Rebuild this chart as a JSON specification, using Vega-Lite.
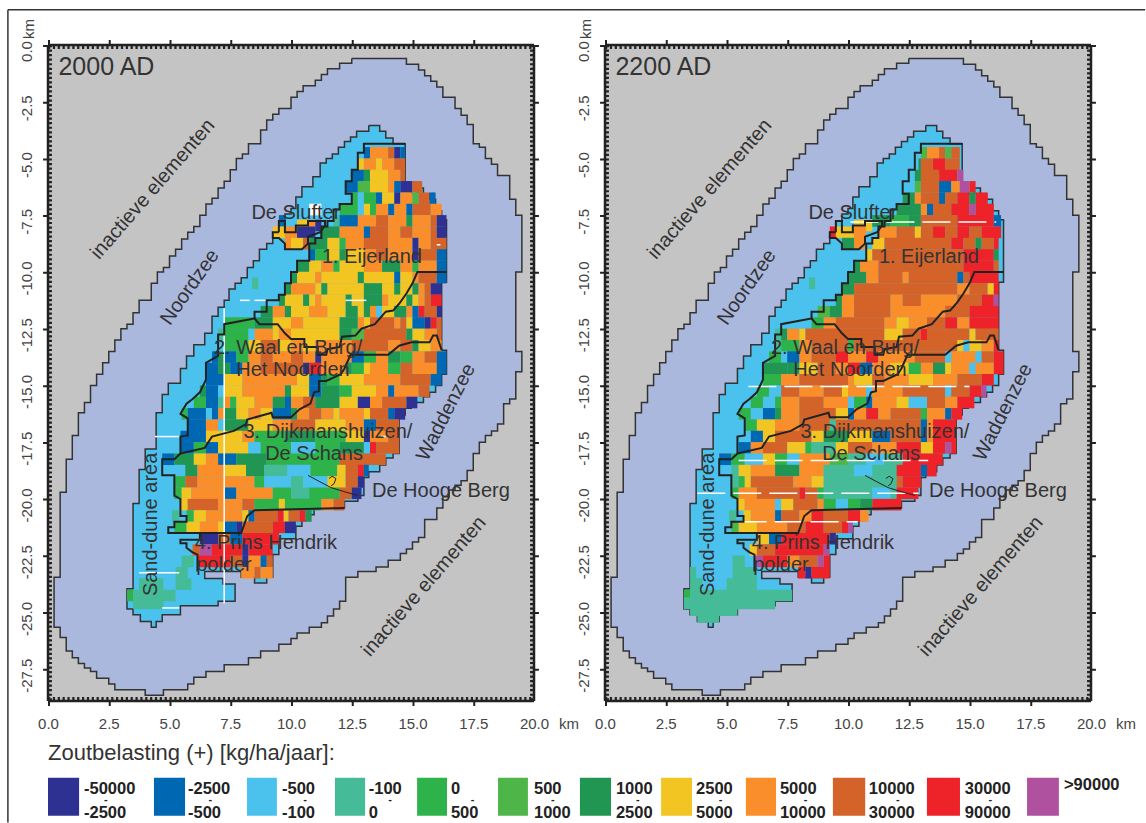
{"$schema":"https://vega.github.io/schema/vega-lite/v6.json","padding":{"left":7,"top":9,"right":0,"bottom":0},"background":"white","config":{"view":{"stroke":null,"fill":"#C4C4C4"},"text":{"font":"Liberation Sans","color":"#333333"},"axis":{"labelFont":"Liberation Sans","grid":false,"title":null}},
"datasets":{
"outer":[{"x":12.5,"y":-0.6},{"x":14.75,"y":-0.6},{"x":14.75,"y":-0.85},{"x":15.25,"y":-0.85},{"x":15.25,"y":-1.1},{"x":15.5,"y":-1.1},{"x":15.5,"y":-1.35},{"x":15.75,"y":-1.35},{"x":15.75,"y":-1.6},{"x":16,"y":-1.6},{"x":16,"y":-1.85},{"x":16.25,"y":-1.85},{"x":16.25,"y":-2.3},{"x":16.75,"y":-2.3},{"x":16.75,"y":-2.8},{"x":17,"y":-2.8},{"x":17,"y":-3.1},{"x":17.25,"y":-3.1},{"x":17.25,"y":-3.5},{"x":17.5,"y":-3.5},{"x":17.5,"y":-4.35},{"x":17.75,"y":-4.35},{"x":17.75,"y":-4.5},{"x":18,"y":-4.5},{"x":18,"y":-5},{"x":18.25,"y":-5},{"x":18.25,"y":-5.25},{"x":18.5,"y":-5.25},{"x":18.5,"y":-5.75},{"x":19,"y":-5.75},{"x":19,"y":-6.8},{"x":19.25,"y":-6.8},{"x":19.25,"y":-7.5},{"x":19.5,"y":-7.5},{"x":19.5,"y":-10},{"x":19.25,"y":-10},{"x":19.25,"y":-13.5},{"x":19.5,"y":-13.5},{"x":19.5,"y":-14.4},{"x":19.25,"y":-14.4},{"x":19.25,"y":-15.6},{"x":19,"y":-15.6},{"x":19,"y":-15.8},{"x":18.75,"y":-15.8},{"x":18.75,"y":-16.7},{"x":18.5,"y":-16.7},{"x":18.5,"y":-17},{"x":18.25,"y":-17},{"x":18.25,"y":-17.2},{"x":18,"y":-17.2},{"x":18,"y":-17.5},{"x":17.75,"y":-17.5},{"x":17.75,"y":-18},{"x":17.5,"y":-18},{"x":17.5,"y":-18.75},{"x":17.25,"y":-18.75},{"x":17.25,"y":-19.2},{"x":17,"y":-19.2},{"x":17,"y":-19.4},{"x":16.75,"y":-19.4},{"x":16.75,"y":-19.6},{"x":16.5,"y":-19.6},{"x":16.5,"y":-19.9},{"x":16.25,"y":-19.9},{"x":16.25,"y":-20.4},{"x":16,"y":-20.4},{"x":16,"y":-20.9},{"x":15.5,"y":-20.9},{"x":15.5,"y":-21.7},{"x":15.25,"y":-21.7},{"x":15.25,"y":-21.9},{"x":15,"y":-21.9},{"x":15,"y":-22.2},{"x":14.75,"y":-22.2},{"x":14.75,"y":-22.4},{"x":14.5,"y":-22.4},{"x":14.5,"y":-22.7},{"x":14,"y":-22.7},{"x":14,"y":-23},{"x":13.5,"y":-23},{"x":13.5,"y":-23.2},{"x":12.75,"y":-23.2},{"x":12.75,"y":-23.45},{"x":12.25,"y":-23.45},{"x":12.25,"y":-24.5},{"x":12,"y":-24.5},{"x":12,"y":-24.85},{"x":11.75,"y":-24.85},{"x":11.75,"y":-25.15},{"x":11.5,"y":-25.15},{"x":11.5,"y":-25.45},{"x":11.25,"y":-25.45},{"x":11.25,"y":-25.65},{"x":10.75,"y":-25.65},{"x":10.75,"y":-25.9},{"x":10.25,"y":-25.9},{"x":10.25,"y":-26.15},{"x":10,"y":-26.15},{"x":10,"y":-26.4},{"x":9.5,"y":-26.4},{"x":9.5,"y":-26.7},{"x":8.75,"y":-26.7},{"x":8.75,"y":-27},{"x":8.25,"y":-27},{"x":8.25,"y":-27.3},{"x":7.25,"y":-27.3},{"x":7.25,"y":-27.6},{"x":6.5,"y":-27.6},{"x":6.5,"y":-27.85},{"x":6,"y":-27.85},{"x":6,"y":-28.15},{"x":5.75,"y":-28.15},{"x":5.75,"y":-28.4},{"x":4.75,"y":-28.4},{"x":4.75,"y":-28.65},{"x":4,"y":-28.65},{"x":4,"y":-28.4},{"x":2.75,"y":-28.4},{"x":2.75,"y":-28.15},{"x":2.5,"y":-28.15},{"x":2.5,"y":-27.9},{"x":2,"y":-27.9},{"x":2,"y":-27.6},{"x":1.75,"y":-27.6},{"x":1.75,"y":-27.45},{"x":1.5,"y":-27.45},{"x":1.5,"y":-27.25},{"x":1.25,"y":-27.25},{"x":1.25,"y":-27},{"x":1,"y":-27},{"x":1,"y":-26.7},{"x":0.75,"y":-26.7},{"x":0.75,"y":-26.1},{"x":0.5,"y":-26.1},{"x":0.5,"y":-25.65},{"x":0.25,"y":-25.65},{"x":0.25,"y":-23.45},{"x":0.5,"y":-23.45},{"x":0.5,"y":-19.7},{"x":0.75,"y":-19.7},{"x":0.75,"y":-18.25},{"x":1,"y":-18.25},{"x":1,"y":-17.2},{"x":1.25,"y":-17.2},{"x":1.25,"y":-16.2},{"x":1.5,"y":-16.2},{"x":1.5,"y":-15.75},{"x":1.75,"y":-15.75},{"x":1.75,"y":-15},{"x":2,"y":-15},{"x":2,"y":-14.5},{"x":2.25,"y":-14.5},{"x":2.25,"y":-14},{"x":2.5,"y":-14},{"x":2.5,"y":-13.5},{"x":2.75,"y":-13.5},{"x":2.75,"y":-13},{"x":3,"y":-13},{"x":3,"y":-12.5},{"x":3.25,"y":-12.5},{"x":3.25,"y":-12.3},{"x":3.5,"y":-12.3},{"x":3.5,"y":-11.8},{"x":3.75,"y":-11.8},{"x":3.75,"y":-11.25},{"x":4.25,"y":-11.25},{"x":4.25,"y":-10.5},{"x":4.5,"y":-10.5},{"x":4.5,"y":-10},{"x":4.75,"y":-10},{"x":4.75,"y":-9.8},{"x":5,"y":-9.8},{"x":5,"y":-9.3},{"x":5.25,"y":-9.3},{"x":5.25,"y":-9},{"x":5.5,"y":-9},{"x":5.5,"y":-8.55},{"x":5.75,"y":-8.55},{"x":5.75,"y":-8.25},{"x":6,"y":-8.25},{"x":6,"y":-8},{"x":6.25,"y":-8},{"x":6.25,"y":-7.5},{"x":6.5,"y":-7.5},{"x":6.5,"y":-7},{"x":6.75,"y":-7},{"x":6.75,"y":-6.75},{"x":7,"y":-6.75},{"x":7,"y":-6.3},{"x":7.25,"y":-6.3},{"x":7.25,"y":-6},{"x":7.5,"y":-6},{"x":7.5,"y":-5.5},{"x":7.75,"y":-5.5},{"x":7.75,"y":-5},{"x":8,"y":-5},{"x":8,"y":-4.8},{"x":8.25,"y":-4.8},{"x":8.25,"y":-4.35},{"x":8.75,"y":-4.35},{"x":8.75,"y":-3.75},{"x":9,"y":-3.75},{"x":9,"y":-3.3},{"x":9.25,"y":-3.3},{"x":9.25,"y":-3.05},{"x":9.5,"y":-3.05},{"x":9.5,"y":-2.8},{"x":10,"y":-2.8},{"x":10,"y":-2.3},{"x":10.25,"y":-2.3},{"x":10.25,"y":-2.05},{"x":10.5,"y":-2.05},{"x":10.5,"y":-1.8},{"x":11,"y":-1.8},{"x":11,"y":-1.55},{"x":11.25,"y":-1.55},{"x":11.25,"y":-1.3},{"x":11.5,"y":-1.3},{"x":11.5,"y":-1.05},{"x":12,"y":-1.05},{"x":12,"y":-0.8},{"x":12.5,"y":-0.8},{"x":12.5,"y":-0.6}],
"isl":[{"x":13.2,"y":-3.55},{"x":13.65,"y":-3.55},{"x":13.65,"y":-3.8},{"x":13.9,"y":-3.8},{"x":13.9,"y":-4.1},{"x":14.2,"y":-4.1},{"x":14.2,"y":-4.35},{"x":14.7,"y":-4.35},{"x":14.7,"y":-6.05},{"x":14.95,"y":-6.05},{"x":14.95,"y":-6.55},{"x":15.2,"y":-6.55},{"x":15.2,"y":-6.3},{"x":15.45,"y":-6.3},{"x":15.45,"y":-6.55},{"x":15.7,"y":-6.55},{"x":15.7,"y":-6.8},{"x":15.95,"y":-6.8},{"x":15.95,"y":-7.3},{"x":16.2,"y":-7.3},{"x":16.2,"y":-7.7},{"x":16.4,"y":-7.7},{"x":16.4,"y":-10.45},{"x":16.2,"y":-10.45},{"x":16.2,"y":-13.45},{"x":16.4,"y":-13.45},{"x":16.4,"y":-14.5},{"x":16.2,"y":-14.5},{"x":16.2,"y":-15},{"x":15.95,"y":-15},{"x":15.95,"y":-15.3},{"x":15.7,"y":-15.3},{"x":15.7,"y":-15.5},{"x":15.45,"y":-15.5},{"x":15.45,"y":-15.75},{"x":14.95,"y":-15.75},{"x":14.95,"y":-16},{"x":14.7,"y":-16},{"x":14.7,"y":-16.3},{"x":14.45,"y":-16.3},{"x":14.45,"y":-18},{"x":14.2,"y":-18},{"x":14.2,"y":-18.2},{"x":13.9,"y":-18.2},{"x":13.9,"y":-18.5},{"x":13.65,"y":-18.5},{"x":13.65,"y":-18.8},{"x":13.2,"y":-18.8},{"x":13.2,"y":-19.05},{"x":13,"y":-19.05},{"x":13,"y":-19.85},{"x":12.75,"y":-19.85},{"x":12.75,"y":-20.1},{"x":12.2,"y":-20.1},{"x":12.2,"y":-20.4},{"x":10.95,"y":-20.4},{"x":10.95,"y":-20.7},{"x":10.7,"y":-20.7},{"x":10.7,"y":-20.95},{"x":10.45,"y":-20.95},{"x":10.45,"y":-21.2},{"x":10.2,"y":-21.2},{"x":10.2,"y":-21.75},{"x":9.5,"y":-21.75},{"x":9.5,"y":-22.45},{"x":9.25,"y":-22.45},{"x":9.25,"y":-23.45},{"x":9,"y":-23.45},{"x":9,"y":-23.7},{"x":8.5,"y":-23.7},{"x":8.5,"y":-23.45},{"x":7.95,"y":-23.45},{"x":7.95,"y":-23.2},{"x":6.45,"y":-23.2},{"x":6.45,"y":-23.5},{"x":7.2,"y":-23.5},{"x":7.2,"y":-23.75},{"x":7.7,"y":-23.75},{"x":7.7,"y":-24.5},{"x":7,"y":-24.5},{"x":7,"y":-24.7},{"x":5.45,"y":-24.7},{"x":5.45,"y":-25.1},{"x":4.7,"y":-25.1},{"x":4.7,"y":-25.4},{"x":4.45,"y":-25.4},{"x":4.45,"y":-25.65},{"x":4.25,"y":-25.65},{"x":4.25,"y":-25.4},{"x":3.8,"y":-25.4},{"x":3.8,"y":-25.1},{"x":3.5,"y":-25.1},{"x":3.5,"y":-24.85},{"x":3.25,"y":-24.85},{"x":3.25,"y":-23.95},{"x":3.5,"y":-23.95},{"x":3.5,"y":-20.2},{"x":3.75,"y":-20.2},{"x":3.75,"y":-18.7},{"x":4,"y":-18.7},{"x":4,"y":-17.8},{"x":4.45,"y":-17.8},{"x":4.45,"y":-16.2},{"x":4.7,"y":-16.2},{"x":4.7,"y":-15.4},{"x":4.95,"y":-15.4},{"x":4.95,"y":-14.9},{"x":5.45,"y":-14.9},{"x":5.45,"y":-14.25},{"x":5.7,"y":-14.25},{"x":5.7,"y":-13.7},{"x":6,"y":-13.7},{"x":6,"y":-13.2},{"x":6.45,"y":-13.2},{"x":6.45,"y":-12.7},{"x":6.75,"y":-12.7},{"x":6.75,"y":-11.95},{"x":7,"y":-11.95},{"x":7,"y":-11.55},{"x":7.25,"y":-11.55},{"x":7.25,"y":-11.25},{"x":7.45,"y":-11.25},{"x":7.45,"y":-10.75},{"x":7.7,"y":-10.75},{"x":7.7,"y":-10.5},{"x":7.95,"y":-10.5},{"x":7.95,"y":-10.25},{"x":8.2,"y":-10.25},{"x":8.2,"y":-9.8},{"x":8.45,"y":-9.8},{"x":8.45,"y":-9.5},{"x":8.7,"y":-9.5},{"x":8.7,"y":-9},{"x":9,"y":-9},{"x":9,"y":-8.75},{"x":9.25,"y":-8.75},{"x":9.25,"y":-8.25},{"x":9.5,"y":-8.25},{"x":9.5,"y":-7.75},{"x":9.75,"y":-7.75},{"x":9.75,"y":-7.45},{"x":10,"y":-7.45},{"x":10,"y":-7.2},{"x":10.2,"y":-7.2},{"x":10.2,"y":-6.7},{"x":10.45,"y":-6.7},{"x":10.45,"y":-6.25},{"x":10.9,"y":-6.25},{"x":10.9,"y":-5.8},{"x":11.2,"y":-5.8},{"x":11.2,"y":-5.2},{"x":11.45,"y":-5.2},{"x":11.45,"y":-5},{"x":11.7,"y":-5},{"x":11.7,"y":-4.8},{"x":11.95,"y":-4.8},{"x":11.95,"y":-4.5},{"x":12.2,"y":-4.5},{"x":12.2,"y":-4.25},{"x":12.45,"y":-4.25},{"x":12.45,"y":-4.05},{"x":12.7,"y":-4.05},{"x":12.7,"y":-3.8},{"x":13.2,"y":-3.8},{"x":13.2,"y":-3.55}],
"lines":[
{"g":"p","x":9.5,"y":-8.25},{"g":"p","x":9.5,"y":-7.75},{"g":"p","x":9.75,"y":-7.75},{"g":"p","x":9.75,"y":-8.25},{"g":"p","x":10.2,"y":-8.25},{"g":"p","x":10.2,"y":-7.95},{"g":"p","x":10.7,"y":-7.95},{"g":"p","x":10.7,"y":-7.75},{"g":"p","x":11.4,"y":-7.75},{"g":"p","x":11.4,"y":-7.95},{"g":"p","x":11.2,"y":-8.25},{"g":"p","x":10.7,"y":-8.45},{"g":"p","x":10.7,"y":-8.75},{"g":"p","x":10.45,"y":-9},{"g":"p","x":9.75,"y":-9},{"g":"p","x":9.75,"y":-8.75},{"g":"p","x":9.5,"y":-8.5},{"g":"p","x":9.25,"y":-8.5},{"g":"p","x":9.25,"y":-8.25},{"g":"p","x":9.5,"y":-8.25},
{"g":"l","x":14.7,"y":-4.35},{"g":"l","x":13,"y":-4.35},{"g":"l","x":13,"y":-4.75},{"g":"l","x":12.75,"y":-4.75},{"g":"l","x":12.75,"y":-5.5},{"g":"l","x":12.5,"y":-5.5},{"g":"l","x":12.5,"y":-6},{"g":"l","x":12.25,"y":-6},{"g":"l","x":12.25,"y":-6.55},{"g":"l","x":12.5,"y":-6.55},{"g":"l","x":12.5,"y":-7},{"g":"l","x":12,"y":-7},{"g":"l","x":12,"y":-7.25},{"g":"l","x":11.75,"y":-7.25},{"g":"l","x":11.75,"y":-7.75},{"g":"l","x":11.5,"y":-7.75},{"g":"l","x":11.5,"y":-8},{"g":"l","x":11.25,"y":-8},{"g":"l","x":11.25,"y":-8.5},{"g":"l","x":11,"y":-8.5},{"g":"l","x":11,"y":-8.75},{"g":"l","x":10.75,"y":-8.75},{"g":"l","x":10.75,"y":-9.5},{"g":"l","x":10.25,"y":-9.5},{"g":"l","x":10.25,"y":-10},{"g":"l","x":10,"y":-10},{"g":"l","x":10,"y":-10.5},{"g":"l","x":9.75,"y":-10.5},{"g":"l","x":9.75,"y":-11},{"g":"l","x":9.5,"y":-11},{"g":"l","x":9.5,"y":-11.25},{"g":"l","x":9,"y":-11.25},{"g":"l","x":9,"y":-11.75},{"g":"l","x":8.5,"y":-11.75},{"g":"l","x":8.5,"y":-12.05},{"g":"l","x":7.25,"y":-12.3},{"g":"l","x":7.25,"y":-12.75},{"g":"l","x":7,"y":-12.75},{"g":"l","x":7,"y":-13.7},{"g":"l","x":6.5,"y":-14},{"g":"l","x":6.5,"y":-14.75},{"g":"l","x":6.25,"y":-15.3},{"g":"l","x":5.95,"y":-15.6},{"g":"l","x":5.7,"y":-15.8},{"g":"l","x":5.45,"y":-16.25},{"g":"l","x":5.75,"y":-16.45},{"g":"l","x":5.75,"y":-17.2},{"g":"l","x":5.45,"y":-17.25},{"g":"l","x":5.45,"y":-18},{"g":"l","x":5.2,"y":-18.25},{"g":"l","x":4.7,"y":-18.25},{"g":"l","x":4.7,"y":-18.95},{"g":"l","x":5.2,"y":-18.95},{"g":"l","x":5.2,"y":-19.85},{"g":"l","x":5.45,"y":-20},{"g":"l","x":5.45,"y":-20.75},{"g":"l","x":5.7,"y":-20.75},{"g":"l","x":5.7,"y":-21},{"g":"l","x":5.2,"y":-21},{"g":"l","x":5.2,"y":-21.25},{"g":"l","x":4.95,"y":-21.25},{"g":"l","x":4.95,"y":-21.5},{"g":"l","x":6.25,"y":-21.5},{"g":"l","x":6.25,"y":-21.8},{"g":"l","x":5.45,"y":-21.8},{"g":"l","x":5.45,"y":-21.95},{"g":"l","x":5.7,"y":-21.95},{"g":"l","x":5.7,"y":-22.15},{"g":"l","x":5.95,"y":-22.35},{"g":"l","x":6.15,"y":-22.45},{"g":"l","x":6.15,"y":-23.2},
{"g":"a","x":8.5,"y":-12.05},{"g":"a","x":8.7,"y":-12.3},{"g":"a","x":9.45,"y":-12.3},{"g":"a","x":9.75,"y":-12.7},{"g":"a","x":10,"y":-12.95},{"g":"a","x":10.55,"y":-12.95},{"g":"a","x":10.55,"y":-13.3},{"g":"a","x":11.1,"y":-13.3},{"g":"a","x":11.1,"y":-13.65},{"g":"a","x":11.45,"y":-13.65},{"g":"a","x":11.5,"y":-13.4},{"g":"a","x":12,"y":-13.3},{"g":"a","x":12.1,"y":-12.85},{"g":"a","x":12.65,"y":-12.8},{"g":"a","x":12.9,"y":-12.5},{"g":"a","x":13.45,"y":-12.3},{"g":"a","x":13.9,"y":-11.75},{"g":"a","x":14.2,"y":-11.7},{"g":"a","x":14.45,"y":-11.4},{"g":"a","x":14.75,"y":-10.95},{"g":"a","x":15,"y":-10.5},{"g":"a","x":15.2,"y":-10},{"g":"a","x":16.4,"y":-10},
{"g":"b","x":5.45,"y":-18},{"g":"b","x":6.45,"y":-17.75},{"g":"b","x":6.75,"y":-17.25},{"g":"b","x":7.65,"y":-17},{"g":"b","x":8.15,"y":-16.7},{"g":"b","x":8.2,"y":-16.5},{"g":"b","x":9.2,"y":-16.2},{"g":"b","x":9.25,"y":-16.4},{"g":"b","x":10,"y":-16.4},{"g":"b","x":10.35,"y":-16.05},{"g":"b","x":10.8,"y":-15.8},{"g":"b","x":10.95,"y":-15.3},{"g":"b","x":11.15,"y":-15.25},{"g":"b","x":11.15,"y":-14.8},{"g":"b","x":11.45,"y":-14.8},{"g":"b","x":12.05,"y":-14.5},{"g":"b","x":12.2,"y":-14.25},{"g":"b","x":12.45,"y":-13.65},{"g":"b","x":14,"y":-13.65},{"g":"b","x":14.45,"y":-13.25},{"g":"b","x":14.95,"y":-13.1},{"g":"b","x":15.7,"y":-13.1},{"g":"b","x":15.85,"y":-12.8},{"g":"b","x":16,"y":-12.8},{"g":"b","x":16.2,"y":-13.45},
{"g":"c","x":6.25,"y":-21.5},{"g":"c","x":7.95,"y":-21.5},{"g":"c","x":8.2,"y":-20.75},{"g":"c","x":8.5,"y":-20.5},{"g":"c","x":12.2,"y":-20.4}],
"hook":[{"g":"h","x":10.7,"y":-18.96},{"g":"h","x":11.15,"y":-19.22},{"g":"h","x":11.65,"y":-19.5},{"g":"h","x":12.26,"y":-19.7},{"g":"h","x":12.76,"y":-19.84},{"g":"o","x":11.56,"y":-19.1},{"g":"o","x":11.69,"y":-19},{"g":"o","x":11.85,"y":-19.1},{"g":"o","x":11.77,"y":-19.33},{"g":"o","x":11.65,"y":-19.42}],
"c1":[
{"y":-4.75,"x":13,"x2":13.25,"c":1},{"y":-4.75,"x":13.25,"x2":14,"c":8},{"y":-4.75,"x":14,"x2":14.25,"c":9},{"y":-4.75,"x":14.25,"x2":14.5,"c":0},{"y":-4.75,"x":14.5,"x2":14.7,"c":1},
{"y":-5.25,"x":12.75,"x2":13,"c":7},{"y":-5.25,"x":13,"x2":13.5,"c":8},{"y":-5.25,"x":13.5,"x2":13.75,"c":7},{"y":-5.25,"x":13.75,"x2":14.25,"c":8},{"y":-5.25,"x":14.25,"x2":14.7,"c":9},
{"y":-5.75,"x":12.5,"x2":13,"c":1},{"y":-5.75,"x":13,"x2":13.25,"c":6},{"y":-5.75,"x":13.25,"x2":14,"c":7},{"y":-5.75,"x":14,"x2":14.5,"c":8},{"y":-5.75,"x":14.5,"x2":14.7,"c":9},
{"y":-6.25,"x":12.25,"x2":12.75,"c":1},{"y":-6.25,"x":12.75,"x2":13.25,"c":5},{"y":-6.25,"x":13.25,"x2":14,"c":7},{"y":-6.25,"x":14,"x2":14.25,"c":8},{"y":-6.25,"x":14.25,"x2":14.5,"c":1},{"y":-6.25,"x":14.5,"x2":15,"c":0},{"y":-6.25,"x":15,"x2":15.4,"c":9},
{"y":-6.75,"x":12.5,"x2":12.75,"c":4},{"y":-6.75,"x":12.75,"x2":13,"c":2},{"y":-6.75,"x":13,"x2":13.5,"c":4},{"y":-6.75,"x":13.5,"x2":13.75,"c":1},{"y":-6.75,"x":13.75,"x2":14.25,"c":7},{"y":-6.75,"x":14.25,"x2":14.5,"c":0},{"y":-6.75,"x":14.5,"x2":15,"c":8},{"y":-6.75,"x":15,"x2":15.25,"c":5},{"y":-6.75,"x":15.25,"x2":15.7,"c":9},{"y":-6.75,"x":15.7,"x2":15.95,"c":1},
{"y":-7.25,"x":10.75,"x2":11.25,"c":12},{"y":-7.25,"x":12,"x2":12.75,"c":4},{"y":-7.25,"x":12.75,"x2":13,"c":2},{"y":-7.25,"x":13,"x2":13.25,"c":7},{"y":-7.25,"x":13.25,"x2":13.5,"c":4},{"y":-7.25,"x":13.5,"x2":14,"c":8},{"y":-7.25,"x":14,"x2":14.25,"c":1},{"y":-7.25,"x":14.25,"x2":14.75,"c":8},{"y":-7.25,"x":14.75,"x2":15,"c":1},{"y":-7.25,"x":15,"x2":15.75,"c":9},{"y":-7.25,"x":15.75,"x2":16.2,"c":8},
{"y":-7.75,"x":9.5,"x2":9.75,"c":1},{"y":-7.95,"x":10.25,"x2":10.7,"c":7},{"y":-7.95,"x":10.7,"x2":11,"c":8},{"y":-7.95,"x":11,"x2":11.25,"c":0},{"y":-7.75,"x":11.75,"x2":12,"c":3},{"y":-7.75,"x":12,"x2":12.75,"c":1},{"y":-7.75,"x":12.75,"x2":13.5,"c":8},{"y":-7.75,"x":13.5,"x2":14,"c":9},{"y":-7.75,"x":14,"x2":14.75,"c":8},{"y":-7.75,"x":14.75,"x2":15,"c":6},{"y":-7.75,"x":15,"x2":15.75,"c":8},{"y":-7.75,"x":15.75,"x2":16,"c":9},{"y":-7.75,"x":16,"x2":16.4,"c":0},
{"y":-8.25,"x":9.25,"x2":9.75,"c":7},{"y":-8.25,"x":9.75,"x2":10.25,"c":8},{"y":-8.25,"x":10.25,"x2":11,"c":0},{"y":-8.25,"x":11.2,"x2":12,"c":6},{"y":-8.25,"x":12,"x2":13,"c":8},{"y":-8.25,"x":13,"x2":13.25,"c":1},{"y":-8.25,"x":13.25,"x2":14,"c":9},{"y":-8.25,"x":14,"x2":14.5,"c":8},{"y":-8.25,"x":14.5,"x2":15,"c":9},{"y":-8.25,"x":15,"x2":15.75,"c":8},{"y":-8.25,"x":15.75,"x2":16,"c":9},{"y":-8.25,"x":16,"x2":16.4,"c":0},
{"y":-8.75,"x":9.75,"x2":10,"c":8},{"y":-8.75,"x":10,"x2":10.5,"c":7},{"y":-8.75,"x":10.5,"x2":10.7,"c":9},{"y":-8.75,"x":10.75,"x2":11.5,"c":6},{"y":-8.75,"x":11.5,"x2":12,"c":7},{"y":-8.75,"x":12,"x2":12.25,"c":4},{"y":-8.75,"x":12.25,"x2":13,"c":8},{"y":-8.75,"x":13,"x2":14,"c":9},{"y":-8.75,"x":14,"x2":15,"c":8},{"y":-8.75,"x":15,"x2":15.25,"c":0},{"y":-8.75,"x":15.25,"x2":15.75,"c":8},{"y":-8.75,"x":15.75,"x2":16.4,"c":9},
{"y":-9.25,"x":10.75,"x2":11,"c":1},{"y":-9.25,"x":11,"x2":11.5,"c":4},{"y":-9.25,"x":11.5,"x2":12,"c":7},{"y":-9.25,"x":12,"x2":12.25,"c":6},{"y":-9.25,"x":12.25,"x2":13,"c":7},{"y":-9.25,"x":13,"x2":13.5,"c":8},{"y":-9.25,"x":13.5,"x2":14,"c":9},{"y":-9.25,"x":14,"x2":15,"c":8},{"y":-9.25,"x":15,"x2":15.25,"c":0},{"y":-9.25,"x":15.25,"x2":16,"c":9},{"y":-9.25,"x":16,"x2":16.4,"c":1},
{"y":-9.75,"x":10.25,"x2":10.75,"c":6},{"y":-9.75,"x":10.75,"x2":11.25,"c":7},{"y":-9.75,"x":11.25,"x2":11.75,"c":8},{"y":-9.75,"x":11.75,"x2":12,"c":4},{"y":-9.75,"x":12,"x2":13,"c":7},{"y":-9.75,"x":13,"x2":13.75,"c":8},{"y":-9.75,"x":13.75,"x2":14.5,"c":6},{"y":-9.75,"x":14.5,"x2":15,"c":8},{"y":-9.75,"x":15,"x2":15.25,"c":4},{"y":-9.75,"x":15.25,"x2":16,"c":8},{"y":-9.75,"x":16,"x2":16.4,"c":1},
{"y":-10.25,"x":10,"x2":10.25,"c":6},{"y":-10.25,"x":10.25,"x2":11,"c":7},{"y":-10.25,"x":11,"x2":11.25,"c":8},{"y":-10.25,"x":11.25,"x2":12.75,"c":7},{"y":-10.25,"x":12.75,"x2":13,"c":6},{"y":-10.25,"x":13,"x2":14.25,"c":7},{"y":-10.25,"x":14.25,"x2":14.5,"c":1},{"y":-10.25,"x":14.5,"x2":15,"c":7},{"y":-10.25,"x":15,"x2":15.25,"c":8},{"y":-10.25,"x":15.25,"x2":16,"c":9},{"y":-10.25,"x":16,"x2":16.4,"c":1},
{"y":-10.5,"x":8.4,"x2":8.65,"c":3},
{"y":-10.75,"x":9.75,"x2":10,"c":6},{"y":-10.75,"x":10,"x2":11,"c":8},{"y":-10.75,"x":11,"x2":11.25,"c":7},{"y":-10.75,"x":11.25,"x2":11.5,"c":6},{"y":-10.75,"x":11.5,"x2":13,"c":7},{"y":-10.75,"x":13,"x2":13.75,"c":6},{"y":-10.75,"x":13.75,"x2":14.25,"c":7},{"y":-10.75,"x":14.25,"x2":14.5,"c":6},{"y":-10.75,"x":14.5,"x2":15,"c":7},{"y":-10.75,"x":15,"x2":15.25,"c":6},{"y":-10.75,"x":15.25,"x2":15.5,"c":8},{"y":-10.75,"x":15.5,"x2":15.75,"c":9},{"y":-10.75,"x":15.75,"x2":16.2,"c":0},
{"y":-11.25,"x":9.5,"x2":9.75,"c":6},{"y":-11.25,"x":9.75,"x2":10.5,"c":7},{"y":-11.25,"x":10.5,"x2":10.75,"c":6},{"y":-11.25,"x":10.75,"x2":11,"c":7},{"y":-11.25,"x":11,"x2":11.25,"c":8},{"y":-11.25,"x":11.25,"x2":12.25,"c":7},{"y":-11.25,"x":12.25,"x2":12.5,"c":6},{"y":-11.25,"x":12.5,"x2":13,"c":7},{"y":-11.25,"x":13,"x2":13.75,"c":6},{"y":-11.25,"x":13.75,"x2":14,"c":8},{"y":-11.25,"x":14,"x2":14.75,"c":7},{"y":-11.25,"x":14.75,"x2":15,"c":6},{"y":-11.25,"x":15,"x2":15.25,"c":7},{"y":-11.25,"x":15.25,"x2":15.5,"c":8},{"y":-11.25,"x":15.5,"x2":15.75,"c":9},{"y":-11.25,"x":15.75,"x2":16.2,"c":10},
{"y":-11.75,"x":8.75,"x2":9.25,"c":6},{"y":-11.75,"x":9.25,"x2":9.75,"c":8},{"y":-11.75,"x":9.75,"x2":10,"c":6},{"y":-11.75,"x":10,"x2":10.75,"c":7},{"y":-11.75,"x":10.75,"x2":11.5,"c":8},{"y":-11.75,"x":11.5,"x2":12.25,"c":7},{"y":-11.75,"x":12.25,"x2":12.75,"c":6},{"y":-11.75,"x":12.75,"x2":13,"c":7},{"y":-11.75,"x":13,"x2":13.25,"c":6},{"y":-11.75,"x":13.25,"x2":13.5,"c":8},{"y":-11.75,"x":13.5,"x2":13.75,"c":2},{"y":-11.75,"x":13.75,"x2":14.25,"c":7},{"y":-11.75,"x":14.25,"x2":14.75,"c":6},{"y":-11.75,"x":14.75,"x2":15,"c":8},{"y":-11.75,"x":15,"x2":15.25,"c":1},{"y":-11.75,"x":15.25,"x2":15.5,"c":10},{"y":-11.75,"x":15.5,"x2":16,"c":9},{"y":-11.75,"x":16,"x2":16.2,"c":0},
{"y":-12.25,"x":7.25,"x2":8.5,"c":4},{"y":-12.25,"x":8.5,"x2":9.25,"c":6},{"y":-12.25,"x":9.25,"x2":10,"c":7},{"y":-12.25,"x":10,"x2":10.5,"c":8},{"y":-12.25,"x":10.5,"x2":12,"c":7},{"y":-12.25,"x":12,"x2":12.75,"c":6},{"y":-12.25,"x":12.75,"x2":13,"c":8},{"y":-12.25,"x":13,"x2":13.25,"c":7},{"y":-12.25,"x":13.25,"x2":14.25,"c":9},{"y":-12.25,"x":14.25,"x2":14.5,"c":8},{"y":-12.25,"x":14.5,"x2":14.75,"c":9},{"y":-12.25,"x":14.75,"x2":15,"c":7},{"y":-12.25,"x":15,"x2":15.5,"c":1},{"y":-12.25,"x":15.5,"x2":15.75,"c":0},{"y":-12.25,"x":15.75,"x2":16,"c":10},{"y":-12.25,"x":16,"x2":16.2,"c":9},
{"y":-12.75,"x":7,"x2":7.25,"c":3},{"y":-12.75,"x":7.25,"x2":8.25,"c":4},{"y":-12.75,"x":8.25,"x2":8.5,"c":2},{"y":-12.75,"x":8.5,"x2":9.25,"c":8},{"y":-12.75,"x":9.25,"x2":9.5,"c":7},{"y":-12.75,"x":9.5,"x2":10,"c":8},{"y":-12.75,"x":10,"x2":12,"c":7},{"y":-12.75,"x":12,"x2":12.5,"c":6},{"y":-12.75,"x":12.5,"x2":13,"c":5},{"y":-12.75,"x":13,"x2":14.75,"c":9},{"y":-12.75,"x":14.75,"x2":15,"c":6},{"y":-12.75,"x":15,"x2":15.5,"c":7},{"y":-12.75,"x":15.5,"x2":16,"c":8},{"y":-12.75,"x":16,"x2":16.2,"c":9},
{"y":-13.25,"x":7,"x2":7.25,"c":2},{"y":-13.25,"x":7.25,"x2":8.25,"c":4},{"y":-13.25,"x":8.25,"x2":8.75,"c":7},{"y":-13.25,"x":8.75,"x2":9.5,"c":9},{"y":-13.25,"x":9.5,"x2":10,"c":7},{"y":-13.25,"x":10,"x2":10.5,"c":8},{"y":-13.25,"x":10.5,"x2":11,"c":7},{"y":-13.25,"x":11,"x2":12.5,"c":8},{"y":-13.25,"x":12.5,"x2":14,"c":9},{"y":-13.25,"x":14,"x2":14.5,"c":8},{"y":-13.25,"x":14.5,"x2":15,"c":9},{"y":-13.25,"x":15,"x2":15.25,"c":6},{"y":-13.25,"x":15.25,"x2":15.75,"c":7},{"y":-13.25,"x":15.75,"x2":16.2,"c":8},
{"y":-13.75,"x":6.75,"x2":7,"c":1},{"y":-13.75,"x":7,"x2":7.25,"c":6},{"y":-13.75,"x":7.25,"x2":7.75,"c":1},{"y":-13.75,"x":7.75,"x2":8.25,"c":4},{"y":-13.75,"x":8.25,"x2":8.75,"c":8},{"y":-13.75,"x":8.75,"x2":9.25,"c":9},{"y":-13.75,"x":9.25,"x2":10,"c":8},{"y":-13.75,"x":10,"x2":10.5,"c":9},{"y":-13.75,"x":10.5,"x2":11,"c":8},{"y":-13.75,"x":11,"x2":11.25,"c":0},{"y":-13.75,"x":11.25,"x2":12.5,"c":8},{"y":-13.75,"x":12.5,"x2":13,"c":1},{"y":-13.75,"x":13,"x2":13.5,"c":4},{"y":-13.75,"x":13.5,"x2":14,"c":8},{"y":-13.75,"x":14,"x2":14.5,"c":6},{"y":-13.75,"x":14.5,"x2":15,"c":4},{"y":-13.75,"x":15,"x2":15.5,"c":8},{"y":-13.75,"x":15.5,"x2":16,"c":9},{"y":-13.75,"x":16,"x2":16.4,"c":1},
{"y":-14.25,"x":6.5,"x2":7,"c":1},{"y":-14.25,"x":7,"x2":7.5,"c":6},{"y":-14.25,"x":7.5,"x2":8,"c":1},{"y":-14.25,"x":8,"x2":8.75,"c":8},{"y":-14.25,"x":8.75,"x2":10.5,"c":9},{"y":-14.25,"x":10.5,"x2":10.75,"c":0},{"y":-14.25,"x":10.75,"x2":11.25,"c":10},{"y":-14.25,"x":11.25,"x2":12.25,"c":8},{"y":-14.25,"x":12.25,"x2":12.5,"c":6},{"y":-14.25,"x":12.5,"x2":13,"c":4},{"y":-14.25,"x":13,"x2":13.25,"c":7},{"y":-14.25,"x":13.25,"x2":14,"c":8},{"y":-14.25,"x":14,"x2":14.5,"c":4},{"y":-14.25,"x":14.5,"x2":15,"c":9},{"y":-14.25,"x":15,"x2":16,"c":8},{"y":-14.25,"x":16,"x2":16.4,"c":1},
{"y":-14.75,"x":6.5,"x2":7.25,"c":1},{"y":-14.75,"x":7.25,"x2":8,"c":7},{"y":-14.75,"x":8,"x2":10.25,"c":8},{"y":-14.75,"x":10.25,"x2":10.75,"c":7},{"y":-14.75,"x":10.75,"x2":11.25,"c":1},{"y":-14.75,"x":11.25,"x2":11.5,"c":6},{"y":-14.75,"x":11.5,"x2":12,"c":4},{"y":-14.75,"x":12,"x2":13,"c":7},{"y":-14.75,"x":13,"x2":14.5,"c":8},{"y":-14.75,"x":14.5,"x2":15.75,"c":9},{"y":-14.75,"x":15.75,"x2":16.2,"c":1},
{"y":-15.25,"x":6.25,"x2":6.5,"c":6},{"y":-15.25,"x":6.5,"x2":7,"c":1},{"y":-15.25,"x":7,"x2":7.25,"c":2},{"y":-15.25,"x":7.25,"x2":8,"c":7},{"y":-15.25,"x":8,"x2":9.75,"c":8},{"y":-15.25,"x":9.75,"x2":10,"c":6},{"y":-15.25,"x":10,"x2":10.75,"c":7},{"y":-15.25,"x":10.75,"x2":11.25,"c":1},{"y":-15.25,"x":11.25,"x2":12,"c":6},{"y":-15.25,"x":12,"x2":12.5,"c":4},{"y":-15.25,"x":12.5,"x2":13.5,"c":7},{"y":-15.25,"x":13.5,"x2":14,"c":8},{"y":-15.25,"x":14,"x2":14.25,"c":1},{"y":-15.25,"x":14.25,"x2":15.25,"c":8},{"y":-15.25,"x":15.25,"x2":15.7,"c":9},
{"y":-15.75,"x":6,"x2":6.5,"c":4},{"y":-15.75,"x":6.5,"x2":7,"c":1},{"y":-15.75,"x":7,"x2":7.25,"c":3},{"y":-15.75,"x":7.25,"x2":7.5,"c":8},{"y":-15.75,"x":7.5,"x2":7.75,"c":4},{"y":-15.75,"x":7.75,"x2":8.5,"c":7},{"y":-15.75,"x":8.5,"x2":9.25,"c":8},{"y":-15.75,"x":9.25,"x2":9.75,"c":6},{"y":-15.75,"x":9.75,"x2":10,"c":1},{"y":-15.75,"x":10,"x2":10.5,"c":8},{"y":-15.75,"x":10.5,"x2":11,"c":9},{"y":-15.75,"x":11,"x2":12,"c":6},{"y":-15.75,"x":12,"x2":12.75,"c":7},{"y":-15.75,"x":12.75,"x2":13.25,"c":0},{"y":-15.75,"x":13.25,"x2":13.75,"c":8},{"y":-15.75,"x":13.75,"x2":14.75,"c":9},{"y":-15.75,"x":14.75,"x2":15.2,"c":0},
{"y":-16.25,"x":5.5,"x2":5.75,"c":4},{"y":-16.25,"x":5.75,"x2":6.5,"c":1},{"y":-16.25,"x":6.5,"x2":6.75,"c":2},{"y":-16.25,"x":6.75,"x2":7,"c":1},{"y":-16.25,"x":7,"x2":7.25,"c":8},{"y":-16.25,"x":7.25,"x2":7.75,"c":6},{"y":-16.25,"x":7.75,"x2":8.25,"c":7},{"y":-16.25,"x":8.25,"x2":8.75,"c":8},{"y":-16.25,"x":8.75,"x2":9.25,"c":7},{"y":-16.25,"x":9.25,"x2":10,"c":1},{"y":-16.25,"x":10,"x2":10.25,"c":6},{"y":-16.25,"x":10.25,"x2":10.75,"c":8},{"y":-16.25,"x":10.75,"x2":11.25,"c":9},{"y":-16.25,"x":11.25,"x2":11.75,"c":8},{"y":-16.25,"x":11.75,"x2":12,"c":7},{"y":-16.25,"x":12,"x2":13,"c":8},{"y":-16.25,"x":13,"x2":13.25,"c":7},{"y":-16.25,"x":13.25,"x2":14,"c":9},{"y":-16.25,"x":14,"x2":14.25,"c":1},{"y":-16.25,"x":14.25,"x2":14.7,"c":0},
{"y":-16.75,"x":5.75,"x2":6.5,"c":1},{"y":-16.75,"x":6.5,"x2":7,"c":8},{"y":-16.75,"x":7,"x2":7.25,"c":2},{"y":-16.75,"x":7.25,"x2":8.25,"c":6},{"y":-16.75,"x":8.25,"x2":9.25,"c":7},{"y":-16.75,"x":9.25,"x2":10,"c":8},{"y":-16.75,"x":10,"x2":11,"c":9},{"y":-16.75,"x":11,"x2":12.25,"c":7},{"y":-16.75,"x":12.25,"x2":13,"c":8},{"y":-16.75,"x":13,"x2":13.5,"c":1},{"y":-16.75,"x":13.5,"x2":14.45,"c":9},
{"y":-17.25,"x":5.45,"x2":6.5,"c":1},{"y":-17.25,"x":6.5,"x2":8,"c":7},{"y":-17.25,"x":8,"x2":8.5,"c":8},{"y":-17.25,"x":8.5,"x2":9.75,"c":4},{"y":-17.25,"x":9.75,"x2":11,"c":6},{"y":-17.25,"x":11,"x2":12.25,"c":4},{"y":-17.25,"x":12.25,"x2":13,"c":7},{"y":-17.25,"x":13,"x2":13.25,"c":0},{"y":-17.25,"x":13.25,"x2":14,"c":8},{"y":-17.25,"x":14,"x2":14.45,"c":9},
{"y":-17.75,"x":5.45,"x2":6,"c":1},{"y":-17.75,"x":6,"x2":6.5,"c":4},{"y":-17.75,"x":6.5,"x2":7,"c":1},{"y":-17.75,"x":7,"x2":8.25,"c":7},{"y":-17.75,"x":8.25,"x2":8.75,"c":2},{"y":-17.75,"x":8.75,"x2":10,"c":4},{"y":-17.75,"x":10,"x2":11,"c":2},{"y":-17.75,"x":11,"x2":12,"c":4},{"y":-17.75,"x":12,"x2":13,"c":6},{"y":-17.75,"x":13,"x2":13.25,"c":2},{"y":-17.75,"x":13.25,"x2":13.5,"c":10},{"y":-17.75,"x":13.5,"x2":14.45,"c":9},
{"y":-18.25,"x":4.7,"x2":5.2,"c":1},{"y":-18.25,"x":5.2,"x2":6,"c":6},{"y":-18.25,"x":6,"x2":6.5,"c":7},{"y":-18.25,"x":6.5,"x2":7,"c":8},{"y":-18.25,"x":7,"x2":7.75,"c":1},{"y":-18.25,"x":7.75,"x2":9,"c":6},{"y":-18.25,"x":9,"x2":12,"c":4},{"y":-18.25,"x":12,"x2":13.9,"c":9},
{"y":-18.75,"x":5.2,"x2":5.65,"c":2},{"y":-18.75,"x":5.65,"x2":6.15,"c":6},{"y":-18.75,"x":6.15,"x2":7.25,"c":8},{"y":-18.75,"x":7.25,"x2":8.15,"c":7},{"y":-18.75,"x":8.15,"x2":8.9,"c":6},{"y":-18.75,"x":8.9,"x2":9.85,"c":3},{"y":-18.75,"x":9.85,"x2":10.8,"c":2},{"y":-18.75,"x":10.8,"x2":11.9,"c":4},{"y":-18.75,"x":11.9,"x2":12.25,"c":7},{"y":-18.75,"x":12.25,"x2":12.75,"c":9},{"y":-18.75,"x":12.75,"x2":13,"c":10},{"y":-18.75,"x":13,"x2":13.2,"c":1},
{"y":-19.25,"x":5.2,"x2":5.65,"c":4},{"y":-19.25,"x":5.65,"x2":6.15,"c":9},{"y":-19.25,"x":6.15,"x2":8.5,"c":8},{"y":-19.25,"x":8.5,"x2":8.9,"c":4},{"y":-19.25,"x":8.9,"x2":10,"c":2},{"y":-19.25,"x":10,"x2":10.5,"c":3},{"y":-19.25,"x":10.5,"x2":11.5,"c":2},{"y":-19.25,"x":11.5,"x2":12.25,"c":7},{"y":-19.25,"x":12.25,"x2":12.75,"c":9},{"y":-19.25,"x":12.75,"x2":13,"c":0},
{"y":-19.75,"x":5.2,"x2":5.5,"c":4},{"y":-19.75,"x":5.5,"x2":5.9,"c":7},{"y":-19.75,"x":5.9,"x2":7.25,"c":8},{"y":-19.75,"x":7.25,"x2":7.75,"c":1},{"y":-19.75,"x":7.75,"x2":9.25,"c":8},{"y":-19.75,"x":9.25,"x2":10,"c":4},{"y":-19.75,"x":10,"x2":10.75,"c":3},{"y":-19.75,"x":10.75,"x2":12,"c":4},{"y":-19.75,"x":12,"x2":12.5,"c":9},{"y":-19.75,"x":12.5,"x2":12.9,"c":0},
{"y":-20.25,"x":5.45,"x2":5.75,"c":7},{"y":-20.25,"x":5.75,"x2":7,"c":9},{"y":-20.25,"x":7,"x2":8,"c":8},{"y":-20.25,"x":8,"x2":8.5,"c":9},{"y":-20.25,"x":8.5,"x2":9.5,"c":4},{"y":-20.25,"x":9.5,"x2":9.75,"c":7},{"y":-20.25,"x":9.75,"x2":11.25,"c":4},{"y":-20.25,"x":11.25,"x2":11.75,"c":8},{"y":-20.25,"x":11.75,"x2":12.2,"c":9},
{"y":-20.75,"x":5.1,"x2":5.4,"c":3},{"y":-20.75,"x":5.7,"x2":6,"c":4},{"y":-20.75,"x":6,"x2":6.5,"c":7},{"y":-20.75,"x":6.5,"x2":8,"c":8},{"y":-20.75,"x":8,"x2":8.25,"c":7},{"y":-20.75,"x":8.25,"x2":8.5,"c":1},{"y":-20.75,"x":8.5,"x2":9.45,"c":9},{"y":-20.75,"x":9.45,"x2":9.7,"c":10},{"y":-20.75,"x":9.7,"x2":9.9,"c":7},{"y":-20.75,"x":9.9,"x2":10.35,"c":9},{"y":-20.75,"x":10.35,"x2":10.6,"c":10},{"y":-20.75,"x":10.6,"x2":10.85,"c":6},
{"y":-21.25,"x":5.2,"x2":5.7,"c":4},{"y":-21.25,"x":5.7,"x2":6.25,"c":7},{"y":-21.25,"x":6.25,"x2":7,"c":8},{"y":-21.25,"x":7,"x2":7.25,"c":7},{"y":-21.25,"x":7.25,"x2":7.75,"c":1},{"y":-21.25,"x":7.75,"x2":8,"c":0},{"y":-21.25,"x":8,"x2":9.25,"c":9},{"y":-21.25,"x":9.25,"x2":9.75,"c":10},{"y":-21.25,"x":9.75,"x2":10.2,"c":0},
{"y":-21.75,"x":6.25,"x2":7,"c":0},{"y":-21.75,"x":7,"x2":7.5,"c":9},{"y":-21.75,"x":7.5,"x2":8,"c":1},{"y":-21.75,"x":8,"x2":9.5,"c":10},
{"y":-22.25,"x":5.95,"x2":6.25,"c":9},{"y":-22.25,"x":6.25,"x2":6.75,"c":11},{"y":-22.25,"x":6.75,"x2":8,"c":10},{"y":-22.25,"x":8,"x2":8.25,"c":0},{"y":-22.25,"x":8.25,"x2":9.25,"c":10},
{"y":-22.75,"x":5.5,"x2":6,"c":3},{"y":-22.75,"x":6.15,"x2":7.5,"c":10},{"y":-22.75,"x":7.5,"x2":8,"c":9},{"y":-22.75,"x":8,"x2":8.25,"c":0},{"y":-22.75,"x":8.25,"x2":8.75,"c":8},{"y":-22.75,"x":8.75,"x2":9,"c":1},{"y":-22.75,"x":9,"x2":9.25,"c":9},
{"y":-23.25,"x":5.25,"x2":5.75,"c":3},{"y":-23.25,"x":7.95,"x2":8.5,"c":8},{"y":-23.25,"x":8.5,"x2":8.75,"c":9},{"y":-23.25,"x":8.75,"x2":9.25,"c":8},
{"y":-23.75,"x":3.75,"x2":4.75,"c":3},{"y":-23.75,"x":5.25,"x2":5.9,"c":3},
{"y":-24.25,"x":3.25,"x2":3.5,"c":4},{"y":-24.25,"x":3.5,"x2":5.25,"c":3},{"y":-24.6,"x":3.5,"x2":4.75,"c":3}],
"c2":[
{"y":-4.75,"x":13,"x2":13.25,"c":5},{"y":-4.75,"x":13.25,"x2":13.75,"c":8},{"y":-4.75,"x":13.75,"x2":14,"c":9},{"y":-4.75,"x":14,"x2":14.25,"c":5},{"y":-4.75,"x":14.25,"x2":14.6,"c":9},
{"y":-5.25,"x":12.9,"x2":13,"c":6},{"y":-5.25,"x":13,"x2":13.5,"c":9},{"y":-5.25,"x":13.5,"x2":14,"c":10},{"y":-5.25,"x":14,"x2":14.6,"c":9},
{"y":-5.75,"x":12.75,"x2":13,"c":6},{"y":-5.75,"x":13,"x2":13.75,"c":9},{"y":-5.75,"x":13.75,"x2":14.5,"c":10},{"y":-5.75,"x":14.5,"x2":14.75,"c":11},
{"y":-6.25,"x":12.75,"x2":13,"c":5},{"y":-6.25,"x":13,"x2":13.75,"c":9},{"y":-6.25,"x":13.75,"x2":14.25,"c":1},{"y":-6.25,"x":14.25,"x2":14.6,"c":8},{"y":-6.25,"x":14.6,"x2":15,"c":11},{"y":-6.25,"x":15,"x2":15.25,"c":10},
{"y":-6.75,"x":12.25,"x2":12.75,"c":6},{"y":-6.75,"x":12.75,"x2":13,"c":8},{"y":-6.75,"x":13,"x2":13.75,"c":9},{"y":-6.75,"x":13.75,"x2":14,"c":1},{"y":-6.75,"x":14,"x2":14.5,"c":9},{"y":-6.75,"x":14.5,"x2":15,"c":10},{"y":-6.75,"x":15,"x2":15.25,"c":6},{"y":-6.75,"x":15.25,"x2":15.75,"c":10},
{"y":-7.25,"x":12,"x2":13,"c":6},{"y":-7.25,"x":13,"x2":13.25,"c":8},{"y":-7.25,"x":13.25,"x2":13.5,"c":1},{"y":-7.25,"x":13.5,"x2":14.25,"c":9},{"y":-7.25,"x":14.25,"x2":15,"c":10},{"y":-7.25,"x":15,"x2":15.25,"c":11},{"y":-7.25,"x":15.25,"x2":16,"c":10},
{"y":-7.95,"x":10.25,"x2":11,"c":7},{"y":-7.75,"x":11,"x2":11.75,"c":6},{"y":-7.75,"x":11.75,"x2":12.5,"c":4},{"y":-7.75,"x":12.5,"x2":13,"c":6},{"y":-7.75,"x":13,"x2":14.5,"c":9},{"y":-7.75,"x":14.5,"x2":16,"c":10},{"y":-7.75,"x":16,"x2":16.3,"c":1},
{"y":-8.25,"x":9.25,"x2":9.5,"c":10},{"y":-8.25,"x":9.5,"x2":10.25,"c":7},{"y":-8.25,"x":10.25,"x2":10.75,"c":8},{"y":-8.25,"x":11.25,"x2":12,"c":8},{"y":-8.25,"x":12,"x2":12.75,"c":9},{"y":-8.25,"x":12.75,"x2":13,"c":7},{"y":-8.25,"x":13,"x2":13.5,"c":9},{"y":-8.25,"x":13.5,"x2":14,"c":10},{"y":-8.25,"x":14,"x2":14.5,"c":9},{"y":-8.25,"x":14.5,"x2":15,"c":10},{"y":-8.25,"x":15,"x2":15.5,"c":9},{"y":-8.25,"x":15.5,"x2":16.3,"c":10},
{"y":-8.75,"x":9.75,"x2":10.25,"c":6},{"y":-8.75,"x":10.25,"x2":10.7,"c":8},{"y":-8.75,"x":11,"x2":11.5,"c":7},{"y":-8.75,"x":11.5,"x2":14.25,"c":9},{"y":-8.75,"x":14.25,"x2":14.75,"c":10},{"y":-8.75,"x":14.75,"x2":15.25,"c":9},{"y":-8.75,"x":15.25,"x2":15.5,"c":6},{"y":-8.75,"x":15.5,"x2":16,"c":9},{"y":-8.75,"x":16,"x2":16.2,"c":10},
{"y":-9.25,"x":10.75,"x2":11,"c":7},{"y":-9.25,"x":11,"x2":14.75,"c":9},{"y":-9.25,"x":14.75,"x2":16,"c":10},{"y":-9.25,"x":16,"x2":16.2,"c":6},
{"y":-9.75,"x":10.25,"x2":10.5,"c":6},{"y":-9.75,"x":10.5,"x2":11.25,"c":8},{"y":-9.75,"x":11.25,"x2":14.75,"c":9},{"y":-9.75,"x":14.75,"x2":16,"c":10},{"y":-9.75,"x":16,"x2":16.2,"c":9},
{"y":-10.25,"x":10,"x2":10.75,"c":6},{"y":-10.25,"x":10.75,"x2":11.25,"c":8},{"y":-10.25,"x":11.25,"x2":12.25,"c":9},{"y":-10.25,"x":12.25,"x2":12.5,"c":8},{"y":-10.25,"x":12.5,"x2":14.5,"c":9},{"y":-10.25,"x":14.5,"x2":14.75,"c":1},{"y":-10.25,"x":14.75,"x2":15,"c":9},{"y":-10.25,"x":15,"x2":16.2,"c":10},{"y":-10.5,"x":8.4,"x2":8.65,"c":3},
{"y":-10.75,"x":9.75,"x2":10.25,"c":6},{"y":-10.75,"x":10.25,"x2":14.5,"c":9},{"y":-10.75,"x":14.5,"x2":15,"c":8},{"y":-10.75,"x":15,"x2":15.75,"c":9},{"y":-10.75,"x":15.75,"x2":16,"c":7},{"y":-10.75,"x":16,"x2":16.2,"c":10},
{"y":-11.25,"x":9.5,"x2":9.75,"c":6},{"y":-11.25,"x":9.75,"x2":10.25,"c":8},{"y":-11.25,"x":10.25,"x2":11.75,"c":9},{"y":-11.25,"x":11.75,"x2":12.25,"c":8},{"y":-11.25,"x":12.25,"x2":13,"c":9},{"y":-11.25,"x":13,"x2":14.5,"c":8},{"y":-11.25,"x":14.5,"x2":15.5,"c":9},{"y":-11.25,"x":15.5,"x2":16,"c":10},{"y":-11.25,"x":16,"x2":16.2,"c":11},
{"y":-11.75,"x":8.75,"x2":9.25,"c":5},{"y":-11.75,"x":9.25,"x2":9.75,"c":6},{"y":-11.75,"x":9.75,"x2":10.25,"c":8},{"y":-11.75,"x":10.25,"x2":11.75,"c":9},{"y":-11.75,"x":11.75,"x2":14,"c":8},{"y":-11.75,"x":14,"x2":15,"c":9},{"y":-11.75,"x":15,"x2":16.2,"c":10},
{"y":-12.25,"x":8.5,"x2":9,"c":4},{"y":-12.25,"x":9,"x2":9.5,"c":8},{"y":-12.25,"x":9.5,"x2":11.5,"c":9},{"y":-12.25,"x":11.5,"x2":12,"c":8},{"y":-12.25,"x":12,"x2":12.5,"c":7},{"y":-12.25,"x":12.5,"x2":13.25,"c":8},{"y":-12.25,"x":13.25,"x2":14,"c":9},{"y":-12.25,"x":14,"x2":14.5,"c":10},{"y":-12.25,"x":14.5,"x2":15,"c":8},{"y":-12.25,"x":15,"x2":16.2,"c":10},
{"y":-12.75,"x":7,"x2":7.25,"c":3},{"y":-12.75,"x":7.25,"x2":7.5,"c":6},{"y":-12.75,"x":7.5,"x2":8,"c":8},{"y":-12.75,"x":8,"x2":8.25,"c":7},{"y":-12.75,"x":8.25,"x2":11.5,"c":9},{"y":-12.75,"x":11.5,"x2":12.25,"c":7},{"y":-12.75,"x":12.25,"x2":13,"c":9},{"y":-12.75,"x":13,"x2":13.25,"c":10},{"y":-12.75,"x":13.25,"x2":15,"c":9},{"y":-12.75,"x":15,"x2":15.25,"c":7},{"y":-12.75,"x":15.25,"x2":16.2,"c":9},
{"y":-13.25,"x":7,"x2":7.25,"c":3},{"y":-13.25,"x":7.25,"x2":8,"c":4},{"y":-13.25,"x":8,"x2":8.5,"c":8},{"y":-13.25,"x":8.5,"x2":10,"c":9},{"y":-13.25,"x":10,"x2":10.25,"c":4},{"y":-13.25,"x":10.25,"x2":14.5,"c":9},{"y":-13.25,"x":14.5,"x2":14.75,"c":7},{"y":-13.25,"x":14.75,"x2":15,"c":2},{"y":-13.25,"x":15,"x2":15.5,"c":7},{"y":-13.25,"x":15.5,"x2":16,"c":8},{"y":-13.25,"x":16,"x2":16.2,"c":10},
{"y":-13.75,"x":6.75,"x2":7.25,"c":4},{"y":-13.75,"x":7.25,"x2":7.5,"c":2},{"y":-13.75,"x":7.5,"x2":8,"c":1},{"y":-13.75,"x":8,"x2":8.5,"c":8},{"y":-13.75,"x":8.5,"x2":9.5,"c":9},{"y":-13.75,"x":9.5,"x2":10,"c":10},{"y":-13.75,"x":10,"x2":10.75,"c":8},{"y":-13.75,"x":10.75,"x2":11.25,"c":10},{"y":-13.75,"x":11.25,"x2":12.75,"c":8},{"y":-13.75,"x":12.75,"x2":14,"c":9},{"y":-13.75,"x":14,"x2":14.25,"c":2},{"y":-13.75,"x":14.25,"x2":15.25,"c":8},{"y":-13.75,"x":15.25,"x2":15.5,"c":2},{"y":-13.75,"x":15.5,"x2":16,"c":9},{"y":-13.75,"x":16,"x2":16.4,"c":10},
{"y":-14.25,"x":6.5,"x2":7.5,"c":6},{"y":-14.25,"x":7.5,"x2":8,"c":6},{"y":-14.25,"x":8,"x2":8.75,"c":7},{"y":-14.25,"x":8.75,"x2":9.5,"c":9},{"y":-14.25,"x":9.5,"x2":10,"c":8},{"y":-14.25,"x":10,"x2":10.5,"c":10},{"y":-14.25,"x":10.5,"x2":11,"c":1},{"y":-14.25,"x":11,"x2":11.75,"c":8},{"y":-14.25,"x":11.75,"x2":12.5,"c":7},{"y":-14.25,"x":12.5,"x2":13,"c":4},{"y":-14.25,"x":13,"x2":13.5,"c":8},{"y":-14.25,"x":13.5,"x2":14,"c":6},{"y":-14.25,"x":14,"x2":14.25,"c":7},{"y":-14.25,"x":14.25,"x2":15,"c":8},{"y":-14.25,"x":15,"x2":15.25,"c":2},{"y":-14.25,"x":15.25,"x2":16,"c":8},{"y":-14.25,"x":16,"x2":16.4,"c":10},
{"y":-14.75,"x":6.5,"x2":7.25,"c":4},{"y":-14.75,"x":7.25,"x2":8,"c":8},{"y":-14.75,"x":8,"x2":10,"c":9},{"y":-14.75,"x":10,"x2":10.25,"c":8},{"y":-14.75,"x":10.25,"x2":11,"c":7},{"y":-14.75,"x":11,"x2":11.5,"c":9},{"y":-14.75,"x":11.5,"x2":12.5,"c":8},{"y":-14.75,"x":12.5,"x2":13.5,"c":7},{"y":-14.75,"x":13.5,"x2":14.5,"c":8},{"y":-14.75,"x":14.5,"x2":15.5,"c":9},{"y":-14.75,"x":15.5,"x2":16,"c":10},
{"y":-15.25,"x":6.25,"x2":6.75,"c":4},{"y":-15.25,"x":6.75,"x2":7.25,"c":2},{"y":-15.25,"x":7.25,"x2":8,"c":9},{"y":-15.25,"x":8,"x2":9,"c":8},{"y":-15.25,"x":9,"x2":9.75,"c":9},{"y":-15.25,"x":9.75,"x2":10,"c":7},{"y":-15.25,"x":10,"x2":10.75,"c":8},{"y":-15.25,"x":10.75,"x2":11,"c":2},{"y":-15.25,"x":11,"x2":12.25,"c":8},{"y":-15.25,"x":12.25,"x2":14,"c":9},{"y":-15.25,"x":14,"x2":14.25,"c":2},{"y":-15.25,"x":14.25,"x2":15,"c":9},{"y":-15.25,"x":15,"x2":15.5,"c":10},{"y":-15.25,"x":15.5,"x2":15.7,"c":11},
{"y":-15.75,"x":6,"x2":6.5,"c":4},{"y":-15.75,"x":6.5,"x2":7,"c":2},{"y":-15.75,"x":7,"x2":7.25,"c":4},{"y":-15.75,"x":7.25,"x2":8,"c":8},{"y":-15.75,"x":8,"x2":9,"c":9},{"y":-15.75,"x":9,"x2":10,"c":8},{"y":-15.75,"x":10,"x2":10.25,"c":2},{"y":-15.75,"x":10.25,"x2":10.75,"c":4},{"y":-15.75,"x":10.75,"x2":11,"c":1},{"y":-15.75,"x":11,"x2":12,"c":8},{"y":-15.75,"x":12,"x2":12.5,"c":7},{"y":-15.75,"x":12.5,"x2":13.25,"c":2},{"y":-15.75,"x":13.25,"x2":14,"c":9},{"y":-15.75,"x":14,"x2":14.5,"c":8},{"y":-15.75,"x":14.5,"x2":15.2,"c":10},
{"y":-16.25,"x":5.5,"x2":6,"c":4},{"y":-16.25,"x":6,"x2":6.5,"c":2},{"y":-16.25,"x":6.5,"x2":7,"c":1},{"y":-16.25,"x":7,"x2":7.25,"c":6},{"y":-16.25,"x":7.25,"x2":8,"c":8},{"y":-16.25,"x":8,"x2":9.5,"c":9},{"y":-16.25,"x":9.5,"x2":10,"c":7},{"y":-16.25,"x":10,"x2":10.25,"c":1},{"y":-16.25,"x":10.25,"x2":10.75,"c":8},{"y":-16.25,"x":10.75,"x2":11.25,"c":10},{"y":-16.25,"x":11.25,"x2":11.75,"c":8},{"y":-16.25,"x":11.75,"x2":13,"c":9},{"y":-16.25,"x":13,"x2":13.25,"c":4},{"y":-16.25,"x":13.25,"x2":14,"c":8},{"y":-16.25,"x":14,"x2":14.25,"c":1},{"y":-16.25,"x":14.25,"x2":14.7,"c":10},
{"y":-16.75,"x":5.75,"x2":6.25,"c":4},{"y":-16.75,"x":6.25,"x2":7,"c":7},{"y":-16.75,"x":7,"x2":8,"c":8},{"y":-16.75,"x":8,"x2":9.25,"c":9},{"y":-16.75,"x":9.25,"x2":9.5,"c":3},{"y":-16.75,"x":9.5,"x2":13,"c":9},{"y":-16.75,"x":13,"x2":13.25,"c":1},{"y":-16.75,"x":13.25,"x2":13.5,"c":8},{"y":-16.75,"x":13.5,"x2":14.45,"c":10},
{"y":-17.25,"x":5.75,"x2":6,"c":2},{"y":-17.25,"x":6,"x2":6.5,"c":1},{"y":-17.25,"x":6.5,"x2":7,"c":7},{"y":-17.25,"x":7,"x2":8.5,"c":9},{"y":-17.25,"x":8.5,"x2":9,"c":7},{"y":-17.25,"x":9,"x2":10,"c":6},{"y":-17.25,"x":10,"x2":11,"c":7},{"y":-17.25,"x":11,"x2":11.75,"c":1},{"y":-17.25,"x":11.75,"x2":13,"c":9},{"y":-17.25,"x":13,"x2":13.25,"c":1},{"y":-17.25,"x":13.25,"x2":13.5,"c":8},{"y":-17.25,"x":13.5,"x2":14.45,"c":10},
{"y":-17.75,"x":5.5,"x2":6,"c":1},{"y":-17.75,"x":6,"x2":6.5,"c":8},{"y":-17.75,"x":6.5,"x2":7.5,"c":9},{"y":-17.75,"x":7.5,"x2":8.25,"c":7},{"y":-17.75,"x":8.25,"x2":8.5,"c":4},{"y":-17.75,"x":8.5,"x2":9.5,"c":3},{"y":-17.75,"x":9.5,"x2":10,"c":7},{"y":-17.75,"x":10,"x2":11,"c":9},{"y":-17.75,"x":11,"x2":12,"c":8},{"y":-17.75,"x":12,"x2":13,"c":10},{"y":-17.75,"x":13,"x2":13.5,"c":7},{"y":-17.75,"x":13.5,"x2":14,"c":10},{"y":-17.75,"x":14,"x2":14.25,"c":11},{"y":-17.75,"x":14.25,"x2":14.45,"c":10},
{"y":-18.25,"x":4.7,"x2":5.2,"c":1},{"y":-18.25,"x":5.2,"x2":5.75,"c":4},{"y":-18.25,"x":5.75,"x2":6.5,"c":2},{"y":-18.25,"x":6.5,"x2":7,"c":7},{"y":-18.25,"x":7,"x2":7.5,"c":4},{"y":-18.25,"x":7.5,"x2":8,"c":2},{"y":-18.25,"x":8,"x2":9.25,"c":8},{"y":-18.25,"x":9.25,"x2":10,"c":5},{"y":-18.25,"x":10,"x2":10.75,"c":3},{"y":-18.25,"x":10.75,"x2":11.5,"c":2},{"y":-18.25,"x":11.5,"x2":12.25,"c":3},{"y":-18.25,"x":12.25,"x2":13.9,"c":10},
{"y":-18.75,"x":5.2,"x2":5.5,"c":3},{"y":-18.75,"x":5.5,"x2":6,"c":7},{"y":-18.75,"x":6,"x2":7,"c":8},{"y":-18.75,"x":7,"x2":8,"c":6},{"y":-18.75,"x":8,"x2":9,"c":8},{"y":-18.75,"x":9,"x2":10.25,"c":3},{"y":-18.75,"x":10.25,"x2":11,"c":2},{"y":-18.75,"x":11,"x2":12,"c":3},{"y":-18.75,"x":12,"x2":13,"c":10},{"y":-18.75,"x":13,"x2":13.25,"c":1},{"y":-18.75,"x":13.25,"x2":13.65,"c":10},
{"y":-19.25,"x":5.2,"x2":5.5,"c":3},{"y":-19.25,"x":5.5,"x2":5.75,"c":4},{"y":-19.25,"x":5.75,"x2":6,"c":7},{"y":-19.25,"x":6,"x2":7.75,"c":9},{"y":-19.25,"x":7.75,"x2":8.5,"c":8},{"y":-19.25,"x":8.5,"x2":9,"c":7},{"y":-19.25,"x":9,"x2":12,"c":3},{"y":-19.25,"x":12,"x2":12.25,"c":9},{"y":-19.25,"x":12.25,"x2":13,"c":10},
{"y":-19.75,"x":5.2,"x2":5.5,"c":4},{"y":-19.75,"x":5.5,"x2":6.25,"c":8},{"y":-19.75,"x":6.25,"x2":8,"c":9},{"y":-19.75,"x":8,"x2":8.25,"c":10},{"y":-19.75,"x":8.25,"x2":8.75,"c":9},{"y":-19.75,"x":8.75,"x2":9,"c":4},{"y":-19.75,"x":9,"x2":11,"c":3},{"y":-19.75,"x":11,"x2":11.75,"c":2},{"y":-19.75,"x":11.75,"x2":12,"c":3},{"y":-19.75,"x":12,"x2":12.9,"c":10},
{"y":-20.25,"x":5.45,"x2":5.75,"c":7},{"y":-20.25,"x":5.75,"x2":7,"c":8},{"y":-20.25,"x":7,"x2":7.25,"c":2},{"y":-20.25,"x":7.25,"x2":7.75,"c":7},{"y":-20.25,"x":7.75,"x2":8.75,"c":9},{"y":-20.25,"x":8.75,"x2":9,"c":8},{"y":-20.25,"x":9,"x2":9.5,"c":4},{"y":-20.25,"x":9.5,"x2":10,"c":2},{"y":-20.25,"x":10,"x2":10.5,"c":4},{"y":-20.25,"x":10.5,"x2":11,"c":6},{"y":-20.25,"x":11,"x2":12.2,"c":10},
{"y":-20.75,"x":5.1,"x2":5.4,"c":3},{"y":-20.75,"x":5.7,"x2":6,"c":7},{"y":-20.75,"x":6,"x2":7,"c":8},{"y":-20.75,"x":7,"x2":7.25,"c":1},{"y":-20.75,"x":7.25,"x2":8,"c":9},{"y":-20.75,"x":8,"x2":8.5,"c":8},{"y":-20.75,"x":8.5,"x2":9,"c":10},{"y":-20.75,"x":9,"x2":10,"c":9},{"y":-20.75,"x":10,"x2":10.5,"c":10},{"y":-20.75,"x":10.5,"x2":10.85,"c":8},
{"y":-21.25,"x":5.2,"x2":5.5,"c":5},{"y":-21.25,"x":5.5,"x2":6.25,"c":7},{"y":-21.25,"x":6.25,"x2":7.5,"c":8},{"y":-21.25,"x":7.5,"x2":8.25,"c":9},{"y":-21.25,"x":8.25,"x2":9,"c":10},{"y":-21.25,"x":9,"x2":9.75,"c":9},{"y":-21.25,"x":9.75,"x2":10,"c":10},{"y":-21.25,"x":10,"x2":10.2,"c":11},
{"y":-21.75,"x":6.25,"x2":6.75,"c":7},{"y":-21.75,"x":6.75,"x2":7.25,"c":1},{"y":-21.75,"x":7.25,"x2":9.25,"c":10},{"y":-21.75,"x":9.25,"x2":9.5,"c":0},
{"y":-22.25,"x":5.95,"x2":6.25,"c":7},{"y":-22.25,"x":6.25,"x2":7,"c":9},{"y":-22.25,"x":7,"x2":9,"c":10},{"y":-22.25,"x":9,"x2":9.25,"c":11},
{"y":-22.75,"x":5.25,"x2":5.75,"c":3},{"y":-22.75,"x":6.15,"x2":6.5,"c":11},{"y":-22.75,"x":6.5,"x2":7.5,"c":10},{"y":-22.75,"x":7.5,"x2":8,"c":8},{"y":-22.75,"x":8,"x2":8.75,"c":9},{"y":-22.75,"x":8.75,"x2":9,"c":11},{"y":-22.75,"x":9,"x2":9.25,"c":10},
{"y":-23.25,"x":3.5,"x2":3.75,"c":3},{"y":-23.25,"x":5.25,"x2":6.25,"c":3},{"y":-23.25,"x":7.95,"x2":8.25,"c":10},{"y":-23.25,"x":8.25,"x2":8.5,"c":0},{"y":-23.25,"x":8.5,"x2":9.25,"c":10},
{"y":-23.75,"x":3.5,"x2":4,"c":3},{"y":-23.75,"x":5,"x2":6.25,"c":3},
{"y":-24.25,"x":3.25,"x2":3.5,"c":4},{"y":-24.25,"x":3.5,"x2":7.7,"c":3},
{"y":-24.6,"x":3.25,"x2":7,"c":3},{"y":-24.9,"x":3.5,"x2":5.45,"c":3},{"y":-25.2,"x":3.8,"x2":4.7,"c":3}],
"w1":[{"x":7.25,"x2":7.25,"y":-11.6,"y2":-24.6},{"x":4.4,"x2":5.4,"y":-17.25,"y2":-17.25},{"x":3.75,"x2":5.4,"y":-23.25,"y2":-23.25},{"x":4.7,"x2":5.4,"y":-24.8,"y2":-24.8},{"x":7.9,"x2":8.3,"y":-11.25,"y2":-11.25},{"x":8.5,"x2":9.2,"y":-11.25,"y2":-11.25},{"x":12.25,"x2":13.1,"y":-11.25,"y2":-11.25},{"x":16,"x2":16.15,"y":-8.8,"y2":-8.8},{"x":13.7,"x2":13.9,"y":-17.25,"y2":-17.25}],
"w2":[{"x":5.9,"x2":15,"y":-15.05,"y2":-15.05},{"x":5.5,"x2":13.3,"y":-18.3,"y2":-18.3},{"x":3.8,"x2":12.9,"y":-19.75,"y2":-19.75},{"x":5.5,"x2":10.4,"y":-21,"y2":-21},{"x":10.1,"x2":16.1,"y":-7.8,"y2":-7.8}],
"fr":[{"x":-1.65,"x2":45.15,"y":1.55,"y2":1.55},{"x":-1.65,"x2":-1.65,"y":1.55,"y2":-34.25}],
"box":[{"x":0,"x2":20,"y":0,"y2":0},{"x":20,"x2":20,"y":0,"y2":-28.9},{"x":20,"x2":0,"y":-28.9,"y2":-28.9},{"x":0,"x2":0,"y":-28.9,"y2":0}],
"mh":[{"x":0,"x2":20,"y":-0.09,"y2":-0.09},{"x":0,"x2":20,"y":-28.81,"y2":-28.81}],
"mv":[{"x":0.08,"x2":0.08,"y":0,"y2":-28.9},{"x":19.92,"x2":19.92,"y":0,"y2":-28.9}],
"Mh":[{"x":0,"x2":20,"y":0.11,"y2":0.11},{"x":0,"x2":20,"y":-29.01,"y2":-29.01}],
"Mv":[{"x":-0.1,"x2":-0.1,"y":0,"y2":-28.9},{"x":20.1,"x2":20.1,"y":0,"y2":-28.9}],
"ann":[{"x":10.2,"y":-7.4,"t":"De Slufter"},{"x":13.33,"y":-9.35,"t":"1. Eijerland"},{"x":9.88,"y":-13.36,"t":"2. Waal en Burg/"},{"x":10.08,"y":-14.33,"t":"Het Noorden"},{"x":11.52,"y":-17.06,"t":"3. Dijkmanshuizen/"},{"x":10.95,"y":-18.03,"t":"De Schans"},{"x":16.17,"y":-19.67,"t":"De Hooge Berg"},{"x":8.97,"y":-21.96,"t":"4. Prins Hendrik"},{"x":7.24,"y":-22.93,"t":"polder"}],
"sw":[{"x":0,"x2":1.28,"y":-32.28,"y2":-33.95,"c":0},{"x":4.36,"x2":5.64,"y":-32.28,"y2":-33.95,"c":1},{"x":8.19,"x2":9.42,"y":-32.28,"y2":-33.95,"c":2},{"x":11.81,"x2":13.05,"y":-32.28,"y2":-33.95,"c":3},{"x":15.19,"x2":16.42,"y":-32.28,"y2":-33.95,"c":4},{"x":18.52,"x2":19.75,"y":-32.28,"y2":-33.95,"c":5},{"x":21.89,"x2":23.17,"y":-32.28,"y2":-33.95,"c":6},{"x":25.23,"x2":26.5,"y":-32.28,"y2":-33.95,"c":7},{"x":28.72,"x2":29.96,"y":-32.28,"y2":-33.95,"c":8},{"x":32.3,"x2":33.63,"y":-32.28,"y2":-33.95,"c":9},{"x":36.17,"x2":37.53,"y":-32.28,"y2":-33.95,"c":10},{"x":40.29,"x2":41.6,"y":-32.28,"y2":-33.95,"c":11}],
"lt":[{"x":1.48,"y":-32.76,"t":"-50000"},{"x":1.48,"y":-33.82,"t":"-2500"},{"x":5.76,"y":-32.76,"t":"-2500"},{"x":5.76,"y":-33.82,"t":"-500"},{"x":9.63,"y":-32.76,"t":"-500"},{"x":9.63,"y":-33.82,"t":"-100"},{"x":13.2,"y":-32.76,"t":"-100"},{"x":13.2,"y":-33.82,"t":"0"},{"x":16.58,"y":-32.76,"t":"0"},{"x":16.58,"y":-33.82,"t":"500"},{"x":20,"y":-32.76,"t":"500"},{"x":20,"y":-33.82,"t":"1000"},{"x":23.37,"y":-32.76,"t":"1000"},{"x":23.37,"y":-33.82,"t":"2500"},{"x":26.67,"y":-32.76,"t":"2500"},{"x":26.67,"y":-33.82,"t":"5000"},{"x":30.12,"y":-32.76,"t":"5000"},{"x":30.12,"y":-33.82,"t":"10000"},{"x":33.78,"y":-32.76,"t":"10000"},{"x":33.78,"y":-33.82,"t":"30000"},{"x":37.73,"y":-32.76,"t":"30000"},{"x":37.73,"y":-33.82,"t":"90000"},{"x":41.81,"y":-32.6,"t":">90000"}],
"ld":[{"x":2.3,"y":-33.25,"t":"-"},{"x":6.6,"y":-33.25,"t":"-"},{"x":10.5,"y":-33.25,"t":"-"},{"x":14,"y":-33.25,"t":"-"},{"x":17.4,"y":-33.25,"t":"-"},{"x":20.7,"y":-33.25,"t":"-"},{"x":24.2,"y":-33.25,"t":"-"},{"x":27.6,"y":-33.25,"t":"-"},{"x":31.1,"y":-33.25,"t":"-"},{"x":34.9,"y":-33.25,"t":"-"},{"x":38.7,"y":-33.25,"t":"-"}]
},
"spacing":71,"bounds":"flush",
"hconcat":[
{"width":486,"height":656,"encoding":{"x":{"field":"x","type":"quantitative","scale":{"domain":[0,20],"nice":false,"zero":false},"axis":null},"y":{"field":"y","type":"quantitative","scale":{"domain":[-28.9,0],"nice":false,"zero":false},"axis":null}},
"resolve":{"axis":{"x":"independent","y":"independent"}},
"layer":[
{"data":{"name":"outer"},"mark":{"type":"line","order":null,"fill":"#ABB8DE","stroke":"#333333","strokeWidth":1.5},"encoding":{"x":{"field":"x","type":"quantitative","axis":{"orient":"bottom","values":[0,2.5,5,7.5,10,12.5,15,17.5,20],"format":".1f","labelFlush":false,"ticks":false,"domain":false,"labelFontSize":15,"labelColor":"#444444","labelPadding":15}},"y":{"field":"y","type":"quantitative","axis":{"orient":"left","values":[0,-2.5,-5,-7.5,-10,-12.5,-15,-17.5,-20,-22.5,-25,-27.5],"labelExpr":"replace(format(datum.value,'.1f'),'−','-')","ticks":false,"domain":false,"labelFontSize":15,"labelColor":"#444444","labelAngle":-90,"labelAlign":"center","labelBaseline":"middle","labelPadding":22,"labelOffset":6}}}},
{"data":{"name":"isl"},"mark":{"type":"line","order":null,"fill":"#4BC2EE","stroke":"#333333","strokeWidth":1.5}},
{"data":{"name":"c1"},"mark":{"type":"rect","height":11.6},"encoding":{"x2":{"field":"x2"},"color":{"field":"c","type":"ordinal","legend":null,"scale":{"domain":[0,1,2,3,4,5,6,7,8,9,10,11,12],"range":["#2E3192","#0067B3","#4BC2EE","#45BB97","#2DB34A","#4EB648","#219653","#F2C522","#F98E2A","#D4632A","#EE2329","#AF519F","#FFFFFF"]}}}},
{"data":{"name":"w1"},"mark":{"type":"rule","color":"white","strokeWidth":1.5},"encoding":{"x2":{"field":"x2"},"y2":{"field":"y2"}}},
{"data":{"name":"lines"},"mark":{"type":"line","order":null,"stroke":"#222222","strokeWidth":2},"encoding":{"detail":{"field":"g"}}},
{"data":{"name":"hook"},"mark":{"type":"line","order":null,"stroke":"#222222","strokeWidth":1},"encoding":{"detail":{"field":"g"}}},
{"data":{"name":"box"},"mark":{"type":"rule","color":"#222222","strokeWidth":2.5},"encoding":{"x2":{"field":"x2"},"y2":{"field":"y2"}}},
{"data":{"name":"mh"},"mark":{"type":"rule","color":"#222222","strokeWidth":4,"strokeDash":[2.2,2.66]},"encoding":{"x2":{"field":"x2"},"y2":{"field":"y2"}}},
{"data":{"name":"mv"},"mark":{"type":"rule","color":"#222222","strokeWidth":4,"strokeDash":[2.2,2.336]},"encoding":{"x2":{"field":"x2"},"y2":{"field":"y2"}}},
{"data":{"name":"Mh"},"mark":{"type":"rule","color":"#222222","strokeWidth":5,"strokeDash":[2,58.75]},"encoding":{"x2":{"field":"x2"},"y2":{"field":"y2"}}},
{"data":{"name":"Mv"},"mark":{"type":"rule","color":"#222222","strokeWidth":5,"strokeDash":[2,54.7]},"encoding":{"x2":{"field":"x2"},"y2":{"field":"y2"}}},
{"data":{"name":"ann"},"mark":{"type":"text","fontSize":20},"encoding":{"text":{"field":"t"}}},
{"data":{"values":[{"x":0.43,"y":-0.95,"t":"2000 AD"}]},"mark":{"type":"text","fontSize":25,"align":"left"},"encoding":{"text":{"field":"t"}}},
{"data":{"values":[{"x":4.31,"y":-6.35,"t":"inactieve elementen"},{"x":15.47,"y":-23.85,"t":"inactieve elementen"}]},"mark":{"type":"text","fontSize":20,"angle":311},"encoding":{"text":{"field":"t"}}},
{"data":{"values":[{"x":5.84,"y":-10.67,"t":"Noordzee"}]},"mark":{"type":"text","fontSize":20,"angle":305},"encoding":{"text":{"field":"t"}}},
{"data":{"values":[{"x":16.38,"y":-16.18,"t":"Waddenzee"}]},"mark":{"type":"text","fontSize":20,"angle":297},"encoding":{"text":{"field":"t"}}},
{"data":{"values":[{"x":4.24,"y":-21.12,"t":"Sand-dune area"}]},"mark":{"type":"text","fontSize":20,"angle":270},"encoding":{"text":{"field":"t"}}},
{"data":{"values":[{"x":21.44,"y":-29.9,"t":"km"}]},"mark":{"type":"text","fontSize":15,"color":"#444444"},"encoding":{"text":{"field":"t"}}},
{"data":{"values":[{"x":-0.78,"y":0.7,"t":"km"}]},"mark":{"type":"text","fontSize":15,"color":"#444444","angle":270},"encoding":{"text":{"field":"t"}}},
{"data":{"name":"fr"},"mark":{"type":"rule","color":"#333333","strokeWidth":1.5},"encoding":{"x2":{"field":"x2"},"y2":{"field":"y2"}}},
{"data":{"values":[{"x":0,"y":-31.17,"t":"Zoutbelasting (+) [kg/ha/jaar]:"}]},"mark":{"type":"text","fontSize":22,"align":"left"},"encoding":{"text":{"field":"t"}}},
{"data":{"name":"sw"},"mark":{"type":"rect"},"encoding":{"x2":{"field":"x2"},"y2":{"field":"y2"},"color":{"field":"c","type":"ordinal","legend":null}}},
{"data":{"name":"lt"},"mark":{"type":"text","fontSize":16.5,"fontWeight":"bold","align":"left","color":"#222222"},"encoding":{"text":{"field":"t"}}},
{"data":{"name":"ld"},"mark":{"type":"text","fontSize":11,"fontWeight":"bold","align":"left","color":"#222222"},"encoding":{"text":{"field":"t"}}}
]},
{"width":486,"height":656,"encoding":{"x":{"field":"x","type":"quantitative","scale":{"domain":[0,20],"nice":false,"zero":false},"axis":null},"y":{"field":"y","type":"quantitative","scale":{"domain":[-28.9,0],"nice":false,"zero":false},"axis":null}},
"resolve":{"axis":{"x":"independent","y":"independent"}},
"layer":[
{"data":{"name":"outer"},"mark":{"type":"line","order":null,"fill":"#ABB8DE","stroke":"#333333","strokeWidth":1.5},"encoding":{"x":{"field":"x","type":"quantitative","axis":{"orient":"bottom","values":[0,2.5,5,7.5,10,12.5,15,17.5,20],"format":".1f","labelFlush":false,"ticks":false,"domain":false,"labelFontSize":15,"labelColor":"#444444","labelPadding":15}},"y":{"field":"y","type":"quantitative","axis":{"orient":"left","values":[0,-2.5,-5,-7.5,-10,-12.5,-15,-17.5,-20,-22.5,-25,-27.5],"labelExpr":"replace(format(datum.value,'.1f'),'−','-')","ticks":false,"domain":false,"labelFontSize":15,"labelColor":"#444444","labelAngle":-90,"labelAlign":"center","labelBaseline":"middle","labelPadding":22,"labelOffset":6}}}},
{"data":{"name":"isl"},"mark":{"type":"line","order":null,"fill":"#4BC2EE","stroke":"#333333","strokeWidth":1.5}},
{"data":{"name":"c2"},"mark":{"type":"rect","height":11.6},"encoding":{"x2":{"field":"x2"},"color":{"field":"c","type":"ordinal","legend":null,"scale":{"domain":[0,1,2,3,4,5,6,7,8,9,10,11,12],"range":["#2E3192","#0067B3","#4BC2EE","#45BB97","#2DB34A","#4EB648","#219653","#F2C522","#F98E2A","#D4632A","#EE2329","#AF519F","#FFFFFF"]}}}},
{"data":{"name":"w2"},"mark":{"type":"rule","color":"white","strokeWidth":1.5,"strokeDash":[28,8]},"encoding":{"x2":{"field":"x2"},"y2":{"field":"y2"}}},
{"data":{"name":"lines"},"mark":{"type":"line","order":null,"stroke":"#222222","strokeWidth":2},"encoding":{"detail":{"field":"g"}}},
{"data":{"name":"hook"},"mark":{"type":"line","order":null,"stroke":"#222222","strokeWidth":1},"encoding":{"detail":{"field":"g"}}},
{"data":{"name":"box"},"mark":{"type":"rule","color":"#222222","strokeWidth":2.5},"encoding":{"x2":{"field":"x2"},"y2":{"field":"y2"}}},
{"data":{"name":"mh"},"mark":{"type":"rule","color":"#222222","strokeWidth":4,"strokeDash":[2.2,2.66]},"encoding":{"x2":{"field":"x2"},"y2":{"field":"y2"}}},
{"data":{"name":"mv"},"mark":{"type":"rule","color":"#222222","strokeWidth":4,"strokeDash":[2.2,2.336]},"encoding":{"x2":{"field":"x2"},"y2":{"field":"y2"}}},
{"data":{"name":"Mh"},"mark":{"type":"rule","color":"#222222","strokeWidth":5,"strokeDash":[2,58.75]},"encoding":{"x2":{"field":"x2"},"y2":{"field":"y2"}}},
{"data":{"name":"Mv"},"mark":{"type":"rule","color":"#222222","strokeWidth":5,"strokeDash":[2,54.7]},"encoding":{"x2":{"field":"x2"},"y2":{"field":"y2"}}},
{"data":{"name":"ann"},"mark":{"type":"text","fontSize":20},"encoding":{"text":{"field":"t"}}},
{"data":{"values":[{"x":0.43,"y":-0.95,"t":"2200 AD"}]},"mark":{"type":"text","fontSize":25,"align":"left"},"encoding":{"text":{"field":"t"}}},
{"data":{"values":[{"x":4.31,"y":-6.35,"t":"inactieve elementen"},{"x":15.47,"y":-23.85,"t":"inactieve elementen"}]},"mark":{"type":"text","fontSize":20,"angle":311},"encoding":{"text":{"field":"t"}}},
{"data":{"values":[{"x":5.84,"y":-10.67,"t":"Noordzee"}]},"mark":{"type":"text","fontSize":20,"angle":305},"encoding":{"text":{"field":"t"}}},
{"data":{"values":[{"x":16.38,"y":-16.18,"t":"Waddenzee"}]},"mark":{"type":"text","fontSize":20,"angle":297},"encoding":{"text":{"field":"t"}}},
{"data":{"values":[{"x":4.24,"y":-21.12,"t":"Sand-dune area"}]},"mark":{"type":"text","fontSize":20,"angle":270},"encoding":{"text":{"field":"t"}}},
{"data":{"values":[{"x":21.44,"y":-29.9,"t":"km"}]},"mark":{"type":"text","fontSize":15,"color":"#444444"},"encoding":{"text":{"field":"t"}}},
{"data":{"values":[{"x":-0.78,"y":0.7,"t":"km"}]},"mark":{"type":"text","fontSize":15,"color":"#444444","angle":270},"encoding":{"text":{"field":"t"}}}
]}
]}
